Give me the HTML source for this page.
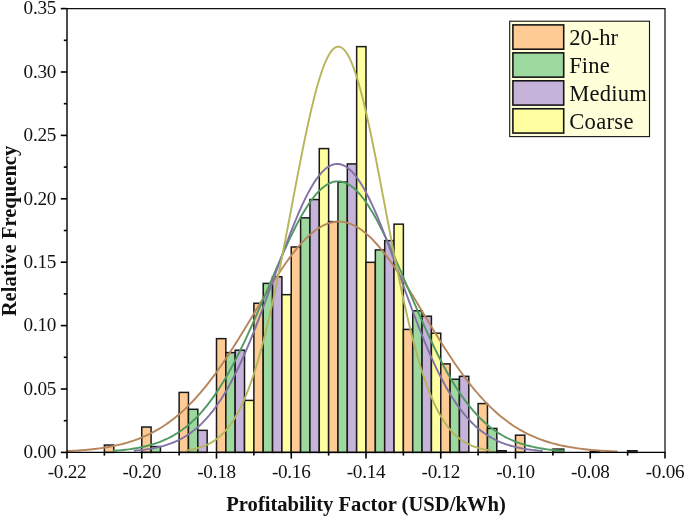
<!DOCTYPE html>
<html><head><meta charset="utf-8"><title>chart</title>
<style>
html,body{margin:0;padding:0;background:#fff;}
body{width:685px;height:517px;position:relative;overflow:hidden;font-family:"Liberation Serif",serif;color:#111;}
.txt{position:absolute;left:0;top:0;width:685px;height:517px;filter:grayscale(1);}
.yt{position:absolute;left:0;width:56px;text-align:right;font-size:19.2px;letter-spacing:-0.3px;line-height:20px;height:20px;}
.xt{position:absolute;top:461.5px;width:60px;text-align:center;font-size:19.2px;letter-spacing:-0.3px;line-height:20px;}
.lg{position:absolute;left:569.2px;font-size:22.6px;line-height:25px;white-space:nowrap;}
.xl{position:absolute;left:66px;width:600px;top:492.5px;text-align:center;font-weight:bold;font-size:20.6px;line-height:22px;}
.yl{position:absolute;left:8.7px;top:231px;width:0;height:0;}
.yl span{position:absolute;display:block;width:300px;left:-150px;top:-11px;height:22px;line-height:22px;text-align:center;font-weight:bold;font-size:20.6px;transform:rotate(-90deg);white-space:nowrap;}
</style></head><body>
<svg width="685" height="517" viewBox="0 0 685 517" style="position:absolute;left:0;top:0">
<g stroke="#1a1a1a" stroke-width="1.5" stroke-linejoin="miter">
<rect x="104.38" y="445.05" width="9.34" height="7.35" fill="#FDCB93"/>
<rect x="141.75" y="427.04" width="9.34" height="25.36" fill="#FDCB93"/>
<rect x="151.09" y="446.57" width="9.34" height="5.83" fill="#9DD89F"/>
<rect x="179.12" y="392.42" width="9.34" height="59.98" fill="#FDCB93"/>
<rect x="188.47" y="409.29" width="9.34" height="43.11" fill="#9DD89F"/>
<rect x="197.81" y="430.34" width="9.34" height="22.06" fill="#C5B3DA"/>
<rect x="216.50" y="338.66" width="9.34" height="113.74" fill="#FDCB93"/>
<rect x="225.84" y="352.61" width="9.34" height="99.79" fill="#9DD89F"/>
<rect x="235.19" y="350.20" width="9.34" height="102.20" fill="#C5B3DA"/>
<rect x="244.53" y="400.41" width="9.34" height="51.99" fill="#FFFFA2"/>
<rect x="253.88" y="303.28" width="9.34" height="149.12" fill="#FDCB93"/>
<rect x="263.22" y="283.38" width="9.34" height="169.02" fill="#9DD89F"/>
<rect x="272.56" y="276.78" width="9.34" height="175.62" fill="#C5B3DA"/>
<rect x="281.91" y="294.66" width="9.34" height="157.74" fill="#FFFFA2"/>
<rect x="291.25" y="246.98" width="9.34" height="205.42" fill="#FDCB93"/>
<rect x="300.59" y="217.82" width="9.34" height="234.58" fill="#9DD89F"/>
<rect x="309.94" y="199.56" width="9.34" height="252.84" fill="#C5B3DA"/>
<rect x="319.28" y="148.59" width="9.34" height="303.81" fill="#FFFFA2"/>
<rect x="328.62" y="221.62" width="9.34" height="230.78" fill="#FDCB93"/>
<rect x="337.97" y="182.06" width="9.34" height="270.34" fill="#9DD89F"/>
<rect x="347.31" y="163.93" width="9.34" height="288.47" fill="#C5B3DA"/>
<rect x="356.66" y="46.64" width="9.34" height="405.76" fill="#FFFFA2"/>
<rect x="366.00" y="262.33" width="9.34" height="190.07" fill="#FDCB93"/>
<rect x="375.34" y="249.90" width="9.34" height="202.50" fill="#9DD89F"/>
<rect x="384.69" y="240.64" width="9.34" height="211.76" fill="#C5B3DA"/>
<rect x="394.03" y="224.16" width="9.34" height="228.24" fill="#FFFFA2"/>
<rect x="403.38" y="329.40" width="9.34" height="123.00" fill="#FDCB93"/>
<rect x="412.72" y="310.76" width="9.34" height="141.64" fill="#9DD89F"/>
<rect x="422.06" y="316.22" width="9.34" height="136.18" fill="#C5B3DA"/>
<rect x="431.41" y="333.21" width="9.34" height="119.19" fill="#FFFFA2"/>
<rect x="440.75" y="363.89" width="9.34" height="88.51" fill="#FDCB93"/>
<rect x="450.09" y="379.24" width="9.34" height="73.16" fill="#9DD89F"/>
<rect x="459.44" y="376.32" width="9.34" height="76.08" fill="#C5B3DA"/>
<rect x="478.12" y="403.58" width="9.34" height="48.82" fill="#FDCB93"/>
<rect x="487.47" y="428.43" width="9.34" height="23.97" fill="#9DD89F"/>
<rect x="496.81" y="450.75" width="9.34" height="1.65" fill="#C5B3DA"/>
<rect x="515.50" y="435.16" width="9.34" height="17.24" fill="#FDCB93"/>
<rect x="590.25" y="451.39" width="9.34" height="1.01" fill="#FDCB93"/>
<rect x="627.62" y="450.75" width="9.34" height="1.65" fill="#FDCB93"/>
<rect x="552.88" y="449.10" width="10.84" height="3.30" fill="#9DD89F"/>
</g>
<g fill="none" stroke-width="1.9" stroke-linecap="round" stroke-linejoin="round">
<polyline stroke="#B7855C" points="67.00,451.15 69.29,451.04 71.58,450.91 73.87,450.78 76.16,450.64 78.45,450.48 80.74,450.31 83.04,450.13 85.33,449.94 87.62,449.73 89.91,449.50 92.20,449.26 94.49,449.00 96.78,448.72 99.07,448.42 101.36,448.10 103.65,447.76 105.94,447.39 108.23,447.00 110.52,446.59 112.82,446.15 115.11,445.67 117.40,445.17 119.69,444.64 121.98,444.07 124.27,443.47 126.56,442.83 128.85,442.15 131.14,441.43 133.43,440.67 135.72,439.87 138.01,439.02 140.30,438.13 142.60,437.19 144.89,436.20 147.18,435.15 149.47,434.06 151.76,432.91 154.05,431.70 156.34,430.43 158.63,429.10 160.92,427.71 163.21,426.25 165.50,424.74 167.79,423.15 170.08,421.50 172.38,419.77 174.67,417.98 176.96,416.11 179.25,414.18 181.54,412.17 183.83,410.08 186.12,407.92 188.41,405.68 190.70,403.37 192.99,400.98 195.28,398.51 197.57,395.97 199.87,393.35 202.16,390.66 204.45,387.89 206.74,385.05 209.03,382.13 211.32,379.15 213.61,376.09 215.90,372.96 218.19,369.77 220.48,366.51 222.77,363.19 225.06,359.81 227.35,356.37 229.65,352.88 231.94,349.34 234.23,345.76 236.52,342.13 238.81,338.46 241.10,334.75 243.39,331.02 245.68,327.26 247.97,323.48 250.26,319.68 252.55,315.87 254.84,312.06 257.13,308.25 259.43,304.44 261.72,300.65 264.01,296.87 266.30,293.12 268.59,289.40 270.88,285.72 273.17,282.08 275.46,278.49 277.75,274.95 280.04,271.48 282.33,268.08 284.62,264.75 286.91,261.51 289.21,258.35 291.50,255.28 293.79,252.32 296.08,249.46 298.37,246.72 300.66,244.09 302.95,241.58 305.24,239.20 307.53,236.96 309.82,234.85 312.11,232.89 314.40,231.07 316.69,229.40 318.99,227.89 321.28,226.53 323.57,225.34 325.86,224.31 328.15,223.44 330.44,222.74 332.73,222.21 335.02,221.85 337.31,221.66 339.60,221.64 341.89,221.79 344.18,222.11 346.47,222.60 348.77,223.27 351.06,224.10 353.35,225.09 355.64,226.25 357.93,227.57 360.22,229.05 362.51,230.68 364.80,232.46 367.09,234.39 369.38,236.47 371.67,238.68 373.96,241.03 376.25,243.51 378.55,246.11 380.84,248.83 383.13,251.66 385.42,254.60 387.71,257.65 390.00,260.78 392.29,264.01 394.58,267.32 396.87,270.71 399.16,274.16 401.45,277.68 403.74,281.26 406.03,284.89 408.33,288.57 410.62,292.28 412.91,296.02 415.20,299.79 417.49,303.58 419.78,307.39 422.07,311.20 424.36,315.01 426.65,318.82 428.94,322.62 431.23,326.40 433.52,330.17 435.81,333.91 438.11,337.62 440.40,341.30 442.69,344.94 444.98,348.54 447.27,352.09 449.56,355.59 451.85,359.04 454.14,362.43 456.43,365.76 458.72,369.04 461.01,372.25 463.30,375.39 465.60,378.46 467.89,381.46 470.18,384.40 472.47,387.26 474.76,390.04 477.05,392.75 479.34,395.39 481.63,397.95 483.92,400.43 486.21,402.83 488.50,405.16 490.79,407.42 493.08,409.60 495.38,411.70 497.67,413.73 499.96,415.68 502.25,417.56 504.54,419.37 506.83,421.11 509.12,422.78 511.41,424.38 513.70,425.92 515.99,427.39 518.28,428.79 520.57,430.13 522.86,431.41 525.16,432.64 527.45,433.80 529.74,434.91 532.03,435.97 534.32,436.97 536.61,437.92 538.90,438.83 541.19,439.68 543.48,440.50 545.77,441.26 548.06,441.99 550.35,442.68 552.64,443.32 554.94,443.93 557.23,444.51 559.52,445.05 561.81,445.56 564.10,446.04 566.39,446.49 568.68,446.91 570.97,447.31 573.26,447.68 575.55,448.03 577.84,448.35 580.13,448.65 582.42,448.94 584.72,449.20 587.01,449.45 589.30,449.68 591.59,449.89 593.88,450.09 596.17,450.27 598.46,450.44 600.75,450.60 603.04,450.75 605.33,450.88 607.62,451.01 609.91,451.13 612.20,451.23 614.50,451.33 616.79,451.43"/>
<polyline stroke="#4F9A60" points="113.72,450.82 115.60,450.68 117.47,450.53 119.35,450.37 121.22,450.19 123.10,450.00 124.98,449.79 126.85,449.57 128.73,449.33 130.61,449.08 132.48,448.80 134.36,448.51 136.24,448.19 138.11,447.85 139.99,447.49 141.87,447.11 143.74,446.70 145.62,446.26 147.50,445.79 149.37,445.29 151.25,444.76 153.13,444.19 155.00,443.59 156.88,442.95 158.76,442.28 160.63,441.56 162.51,440.80 164.39,439.99 166.26,439.14 168.14,438.24 170.01,437.29 171.89,436.29 173.77,435.24 175.64,434.13 177.52,432.96 179.40,431.73 181.27,430.44 183.15,429.09 185.03,427.67 186.90,426.18 188.78,424.62 190.66,422.99 192.53,421.29 194.41,419.52 196.29,417.67 198.16,415.74 200.04,413.73 201.92,411.64 203.79,409.46 205.67,407.21 207.55,404.87 209.42,402.45 211.30,399.94 213.18,397.34 215.05,394.66 216.93,391.89 218.80,389.03 220.68,386.09 222.56,383.05 224.43,379.94 226.31,376.73 228.19,373.45 230.06,370.07 231.94,366.62 233.82,363.09 235.69,359.48 237.57,355.79 239.45,352.02 241.32,348.19 243.20,344.29 245.08,340.32 246.95,336.29 248.83,332.20 250.71,328.06 252.58,323.86 254.46,319.63 256.34,315.35 258.21,311.03 260.09,306.69 261.97,302.31 263.84,297.92 265.72,293.52 267.59,289.11 269.47,284.69 271.35,280.28 273.22,275.88 275.10,271.50 276.98,267.15 278.85,262.83 280.73,258.54 282.61,254.30 284.48,250.12 286.36,245.99 288.24,241.93 290.11,237.95 291.99,234.05 293.87,230.24 295.74,226.53 297.62,222.92 299.50,219.41 301.37,216.03 303.25,212.77 305.13,209.64 307.00,206.65 308.88,203.80 310.76,201.09 312.63,198.54 314.51,196.15 316.38,193.93 318.26,191.87 320.14,189.98 322.01,188.27 323.89,186.75 325.77,185.40 327.64,184.24 329.52,183.27 331.40,182.50 333.27,181.91 335.15,181.52 337.03,181.33 338.90,181.33 340.78,181.52 342.66,181.91 344.53,182.49 346.41,183.27 348.29,184.24 350.16,185.40 352.04,186.74 353.92,188.27 355.79,189.97 357.67,191.86 359.55,193.92 361.42,196.14 363.30,198.53 365.17,201.08 367.05,203.78 368.93,206.64 370.80,209.63 372.68,212.76 374.56,216.02 376.43,219.40 378.31,222.90 380.19,226.51 382.06,230.23 383.94,234.04 385.82,237.94 387.69,241.92 389.57,245.98 391.45,250.10 393.32,254.28 395.20,258.52 397.08,262.81 398.95,267.13 400.83,271.49 402.71,275.87 404.58,280.26 406.46,284.67 408.33,289.09 410.21,293.50 412.09,297.91 413.96,302.30 415.84,306.67 417.72,311.01 419.59,315.33 421.47,319.61 423.35,323.85 425.22,328.04 427.10,332.18 428.98,336.27 430.85,340.30 432.73,344.27 434.61,348.17 436.48,352.01 438.36,355.77 440.24,359.46 442.11,363.07 443.99,366.61 445.87,370.06 447.74,373.43 449.62,376.72 451.50,379.92 453.37,383.04 455.25,386.07 457.12,389.02 459.00,391.88 460.88,394.65 462.75,397.33 464.63,399.93 466.51,402.44 468.38,404.86 470.26,407.20 472.14,409.46 474.01,411.63 475.89,413.72 477.77,415.73 479.64,417.66 481.52,419.51 483.40,421.29 485.27,422.99 487.15,424.61 489.03,426.17 490.90,427.66 492.78,429.08 494.66,430.43 496.53,431.72 498.41,432.95 500.29,434.12 502.16,435.23 504.04,436.29 505.91,437.29 507.79,438.24 509.67,439.14 511.54,439.99 513.42,440.79 515.30,441.55 517.17,442.27 519.05,442.95 520.93,443.59 522.80,444.19 524.68,444.75 526.56,445.29 528.43,445.79 530.31,446.25 532.19,446.69 534.06,447.11 535.94,447.49 537.82,447.85 539.69,448.19 541.57,448.51 543.45,448.80 545.32,449.07 547.20,449.33 549.08,449.57 550.95,449.79 552.83,450.00 554.70,450.19 556.58,450.36 558.46,450.53 560.33,450.68 562.21,450.82 564.09,450.95"/>
<polyline stroke="#8172A6" points="134.65,450.71 136.35,450.56 138.04,450.40 139.74,450.22 141.44,450.03 143.14,449.83 144.83,449.61 146.53,449.37 148.23,449.12 149.93,448.85 151.62,448.55 153.32,448.24 155.02,447.90 156.72,447.54 158.41,447.15 160.11,446.74 161.81,446.30 163.51,445.83 165.20,445.33 166.90,444.79 168.60,444.22 170.30,443.62 171.99,442.98 173.69,442.29 175.39,441.57 177.08,440.80 178.78,439.99 180.48,439.13 182.18,438.22 183.87,437.26 185.57,436.24 187.27,435.17 188.97,434.04 190.66,432.85 192.36,431.60 194.06,430.29 195.76,428.91 197.45,427.46 199.15,425.94 200.85,424.35 202.55,422.69 204.24,420.95 205.94,419.13 207.64,417.23 209.34,415.25 211.03,413.19 212.73,411.04 214.43,408.80 216.13,406.48 217.82,404.07 219.52,401.57 221.22,398.98 222.92,396.30 224.61,393.52 226.31,390.66 228.01,387.70 229.71,384.64 231.40,381.50 233.10,378.26 234.80,374.93 236.50,371.51 238.19,368.00 239.89,364.40 241.59,360.71 243.29,356.94 244.98,353.08 246.68,349.14 248.38,345.13 250.08,341.03 251.77,336.87 253.47,332.63 255.17,328.33 256.87,323.97 258.56,319.55 260.26,315.08 261.96,310.56 263.65,306.00 265.35,301.40 267.05,296.77 268.75,292.11 270.44,287.43 272.14,282.74 273.84,278.04 275.54,273.34 277.23,268.64 278.93,263.96 280.63,259.30 282.33,254.66 284.02,250.06 285.72,245.51 287.42,241.00 289.12,236.55 290.81,232.17 292.51,227.86 294.21,223.63 295.91,219.49 297.60,215.44 299.30,211.50 301.00,207.67 302.70,203.96 304.39,200.37 306.09,196.92 307.79,193.61 309.49,190.44 311.18,187.43 312.88,184.57 314.58,181.88 316.28,179.36 317.97,177.02 319.67,174.85 321.37,172.87 323.07,171.08 324.76,169.49 326.46,168.09 328.16,166.88 329.86,165.88 331.55,165.09 333.25,164.50 334.95,164.12 336.65,163.94 338.34,163.98 340.04,164.22 341.74,164.67 343.43,165.32 345.13,166.18 346.83,167.25 348.53,168.51 350.22,169.98 351.92,171.64 353.62,173.49 355.32,175.53 357.01,177.75 358.71,180.15 360.41,182.73 362.11,185.47 363.80,188.38 365.50,191.44 367.20,194.66 368.90,198.01 370.59,201.51 372.29,205.14 373.99,208.89 375.69,212.75 377.38,216.73 379.08,220.80 380.78,224.98 382.48,229.23 384.17,233.57 385.87,237.97 387.57,242.44 389.27,246.96 390.96,251.54 392.66,256.15 394.36,260.79 396.06,265.46 397.75,270.15 399.45,274.85 401.15,279.55 402.85,284.25 404.54,288.94 406.24,293.61 407.94,298.26 409.64,302.88 411.33,307.47 413.03,312.02 414.73,316.52 416.43,320.98 418.12,325.38 419.82,329.72 421.52,334.00 423.21,338.21 424.91,342.36 426.61,346.42 428.31,350.42 430.00,354.33 431.70,358.16 433.40,361.90 435.10,365.56 436.79,369.14 438.49,372.62 440.19,376.01 441.89,379.31 443.58,382.52 445.28,385.64 446.98,388.66 448.68,391.59 450.37,394.43 452.07,397.17 453.77,399.82 455.47,402.39 457.16,404.86 458.86,407.24 460.56,409.53 462.26,411.74 463.95,413.86 465.65,415.89 467.35,417.85 469.05,419.72 470.74,421.51 472.44,423.23 474.14,424.87 475.84,426.44 477.53,427.93 479.23,429.36 480.93,430.72 482.63,432.01 484.32,433.24 486.02,434.41 487.72,435.52 489.42,436.57 491.11,437.57 492.81,438.52 494.51,439.41 496.21,440.26 497.90,441.05 499.60,441.81 501.30,442.52 502.99,443.19 504.69,443.82 506.39,444.41 508.09,444.97 509.78,445.49 511.48,445.98 513.18,446.44 514.88,446.88 516.57,447.28 518.27,447.66 519.97,448.01 521.67,448.34 523.36,448.65 525.06,448.94 526.76,449.20 528.46,449.45 530.15,449.68 531.85,449.90 533.55,450.10 535.25,450.28 536.94,450.45 538.64,450.61 540.34,450.76 542.04,450.90"/>
<polyline stroke="#B5B55C" points="186.97,450.32 188.24,450.13 189.50,449.92 190.77,449.70 192.03,449.46 193.30,449.20 194.56,448.92 195.83,448.62 197.09,448.29 198.35,447.94 199.62,447.56 200.88,447.16 202.15,446.72 203.41,446.26 204.68,445.76 205.94,445.22 207.21,444.65 208.47,444.04 209.74,443.39 211.00,442.69 212.26,441.95 213.53,441.16 214.79,440.31 216.06,439.42 217.32,438.46 218.59,437.45 219.85,436.38 221.12,435.24 222.38,434.04 223.64,432.76 224.91,431.41 226.17,429.99 227.44,428.48 228.70,426.90 229.97,425.23 231.23,423.47 232.50,421.62 233.76,419.67 235.03,417.63 236.29,415.49 237.55,413.25 238.82,410.90 240.08,408.44 241.35,405.86 242.61,403.18 243.88,400.38 245.14,397.46 246.41,394.41 247.67,391.25 248.94,387.96 250.20,384.54 251.46,380.99 252.73,377.32 253.99,373.51 255.26,369.57 256.52,365.50 257.79,361.29 259.05,356.95 260.32,352.48 261.58,347.88 262.85,343.14 264.11,338.27 265.37,333.28 266.64,328.15 267.90,322.90 269.17,317.53 270.43,312.04 271.70,306.44 272.96,300.72 274.23,294.89 275.49,288.96 276.75,282.93 278.02,276.81 279.28,270.60 280.55,264.31 281.81,257.95 283.08,251.52 284.34,245.02 285.61,238.48 286.87,231.89 288.14,225.27 289.40,218.62 290.66,211.95 291.93,205.27 293.19,198.60 294.46,191.94 295.72,185.29 296.99,178.69 298.25,172.12 299.52,165.61 300.78,159.16 302.05,152.79 303.31,146.50 304.57,140.31 305.84,134.23 307.10,128.28 308.37,122.45 309.63,116.76 310.90,111.23 312.16,105.87 313.43,100.67 314.69,95.67 315.95,90.85 317.22,86.24 318.48,81.85 319.75,77.68 321.01,73.74 322.28,70.04 323.54,66.59 324.81,63.40 326.07,60.46 327.34,57.80 328.60,55.41 329.86,53.30 331.13,51.47 332.39,49.93 333.66,48.68 334.92,47.73 336.19,47.07 337.45,46.71 338.72,46.65 339.98,46.89 341.25,47.43 342.51,48.26 343.77,49.39 345.04,50.81 346.30,52.52 347.57,54.51 348.83,56.79 350.10,59.34 351.36,62.17 352.63,65.25 353.89,68.60 355.16,72.20 356.42,76.04 357.68,80.12 358.95,84.42 360.21,88.94 361.48,93.67 362.74,98.60 364.01,103.72 365.27,109.02 366.54,114.48 367.80,120.11 369.06,125.88 370.33,131.78 371.59,137.81 372.86,143.96 374.12,150.20 375.39,156.54 376.65,162.96 377.92,169.45 379.18,176.00 380.45,182.59 381.71,189.22 382.97,195.87 384.24,202.54 385.50,209.22 386.77,215.89 388.03,222.55 389.30,229.19 390.56,235.79 391.83,242.36 393.09,248.87 394.36,255.33 395.62,261.72 396.88,268.04 398.15,274.28 399.41,280.44 400.68,286.51 401.94,292.48 403.21,298.35 404.47,304.11 405.74,309.76 407.00,315.30 408.26,320.72 409.53,326.02 410.79,331.20 412.06,336.24 413.32,341.16 414.59,345.95 415.85,350.61 417.12,355.14 418.38,359.53 419.65,363.79 420.91,367.92 422.17,371.92 423.44,375.78 424.70,379.51 425.97,383.11 427.23,386.58 428.50,389.92 429.76,393.14 431.03,396.23 432.29,399.20 433.56,402.05 434.82,404.78 436.08,407.40 437.35,409.90 438.61,412.30 439.88,414.59 441.14,416.77 442.41,418.85 443.67,420.83 444.94,422.72 446.20,424.52 447.47,426.23 448.73,427.85 449.99,429.38 451.26,430.84 452.52,432.22 453.79,433.52 455.05,434.76 456.32,435.92 457.58,437.02 458.85,438.06 460.11,439.03 461.37,439.95 462.64,440.82 463.90,441.63 465.17,442.39 466.43,443.11 467.70,443.78 468.96,444.41 470.23,445.00 471.49,445.55 472.76,446.06 474.02,446.54 475.28,446.99 476.55,447.40 477.81,447.79 479.08,448.15 480.34,448.49 481.61,448.80 482.87,449.09 484.14,449.36 485.40,449.61 486.67,449.84 487.93,450.05 489.19,450.25 490.46,450.43"/>
</g>
<g stroke="#000" stroke-width="1.6" fill="none" stroke-linecap="butt">
<path d="M67.0,8.0 V452.4 H665.6" stroke-width="1.4"/>
<path d="M67.0,8.6 H665.0 V452.4" stroke-width="1.25" stroke="#111"/>
<line x1="60.8" y1="452.40" x2="67.0" y2="452.40"/>
<line x1="63.8" y1="420.70" x2="67.0" y2="420.70"/>
<line x1="60.8" y1="389.00" x2="67.0" y2="389.00"/>
<line x1="63.8" y1="357.30" x2="67.0" y2="357.30"/>
<line x1="60.8" y1="325.60" x2="67.0" y2="325.60"/>
<line x1="63.8" y1="293.90" x2="67.0" y2="293.90"/>
<line x1="60.8" y1="262.20" x2="67.0" y2="262.20"/>
<line x1="63.8" y1="230.50" x2="67.0" y2="230.50"/>
<line x1="60.8" y1="198.80" x2="67.0" y2="198.80"/>
<line x1="63.8" y1="167.10" x2="67.0" y2="167.10"/>
<line x1="60.8" y1="135.40" x2="67.0" y2="135.40"/>
<line x1="63.8" y1="103.70" x2="67.0" y2="103.70"/>
<line x1="60.8" y1="72.00" x2="67.0" y2="72.00"/>
<line x1="63.8" y1="40.30" x2="67.0" y2="40.30"/>
<line x1="60.8" y1="8.60" x2="67.0" y2="8.60"/>
<line x1="67.00" y1="452.4" x2="67.00" y2="458.59999999999997"/>
<line x1="104.38" y1="452.4" x2="104.38" y2="455.59999999999997"/>
<line x1="141.75" y1="452.4" x2="141.75" y2="458.59999999999997"/>
<line x1="179.12" y1="452.4" x2="179.12" y2="455.59999999999997"/>
<line x1="216.50" y1="452.4" x2="216.50" y2="458.59999999999997"/>
<line x1="253.88" y1="452.4" x2="253.88" y2="455.59999999999997"/>
<line x1="291.25" y1="452.4" x2="291.25" y2="458.59999999999997"/>
<line x1="328.63" y1="452.4" x2="328.63" y2="455.59999999999997"/>
<line x1="366.00" y1="452.4" x2="366.00" y2="458.59999999999997"/>
<line x1="403.38" y1="452.4" x2="403.38" y2="455.59999999999997"/>
<line x1="440.75" y1="452.4" x2="440.75" y2="458.59999999999997"/>
<line x1="478.12" y1="452.4" x2="478.12" y2="455.59999999999997"/>
<line x1="515.50" y1="452.4" x2="515.50" y2="458.59999999999997"/>
<line x1="552.88" y1="452.4" x2="552.88" y2="455.59999999999997"/>
<line x1="590.25" y1="452.4" x2="590.25" y2="458.59999999999997"/>
<line x1="627.63" y1="452.4" x2="627.63" y2="455.59999999999997"/>
<line x1="665.00" y1="452.4" x2="665.00" y2="458.59999999999997"/>
</g>
<rect x="509.7" y="21.2" width="139.8" height="115.4" fill="#FFFFD9" stroke="#1c1c1c" stroke-width="1.15"/>
<rect x="512.9" y="24.90" width="50.8" height="24.3" fill="#FDCB93" stroke="#161616" stroke-width="1.6"/>
<rect x="512.9" y="52.85" width="50.8" height="24.3" fill="#9DD89F" stroke="#161616" stroke-width="1.6"/>
<rect x="512.9" y="80.80" width="50.8" height="24.3" fill="#C5B3DA" stroke="#161616" stroke-width="1.6"/>
<rect x="512.9" y="108.75" width="50.8" height="24.3" fill="#FFFFA2" stroke="#161616" stroke-width="1.6"/>
</svg>
<div class="txt">
<div class="yt" style="top:442.1px">0.00</div><div class="yt" style="top:378.7px">0.05</div><div class="yt" style="top:315.3px">0.10</div><div class="yt" style="top:251.9px">0.15</div><div class="yt" style="top:188.5px">0.20</div><div class="yt" style="top:125.1px">0.25</div><div class="yt" style="top:61.7px">0.30</div><div class="yt" style="top:-1.7px">0.35</div><div class="xt" style="left:37.0px">-0.22</div><div class="xt" style="left:111.7px">-0.20</div><div class="xt" style="left:186.5px">-0.18</div><div class="xt" style="left:261.2px">-0.16</div><div class="xt" style="left:336.0px">-0.14</div><div class="xt" style="left:410.8px">-0.12</div><div class="xt" style="left:485.5px">-0.10</div><div class="xt" style="left:560.3px">-0.08</div><div class="xt" style="left:635.0px">-0.06</div><div class="lg" style="top:25.1px;letter-spacing:0px">20-hr</div><div class="lg" style="top:53.0px;letter-spacing:0.1px">Fine</div><div class="lg" style="top:81.0px;letter-spacing:0.2px">Medium</div><div class="lg" style="top:109.0px;letter-spacing:0.3px">Coarse</div>
<div class="xl">Profitability Factor (USD/kWh)</div>
<div class="yl"><span>Relative Frequency</span></div>
</div>
</body></html>
